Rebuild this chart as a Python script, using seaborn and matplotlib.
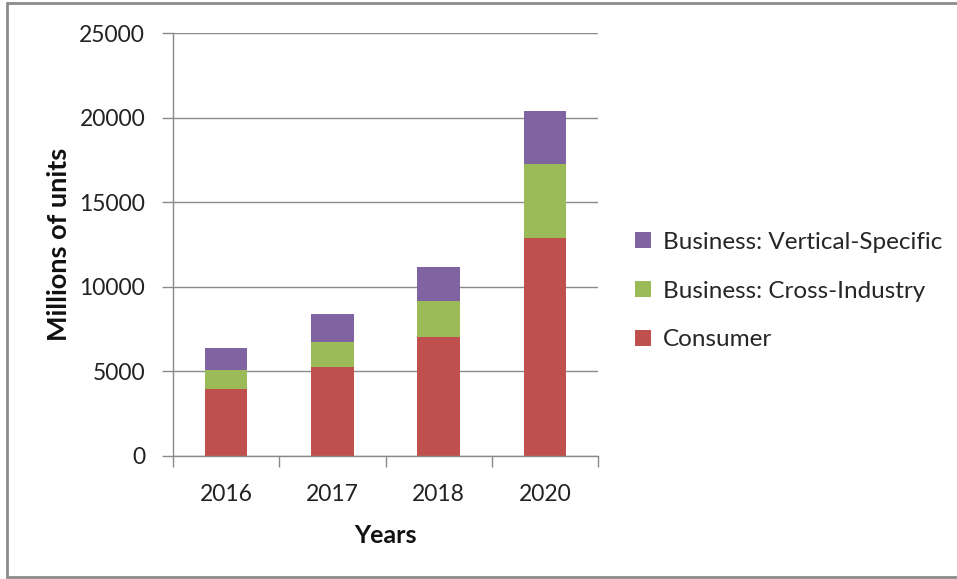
import matplotlib
matplotlib.use("Agg")
import matplotlib.pyplot as plt
import seaborn as sns
import pandas as pd
import numpy as np
from matplotlib.lines import Line2D
from matplotlib.patches import Patch
from matplotlib.ticker import FixedLocator

years = ["2016", "2017", "2018", "2020"]
consumer = [3963.0, 5244.3, 7036.3, 12863.0]
cross_industry = [1102.1, 1501.0, 2132.6, 4381.4]
vertical_specific = [1316.6, 1635.4, 2027.7, 3171.0]
series_names = ["Consumer", "Business: Cross-Industry", "Business: Vertical-Specific"]
colors = ["#C0504D", "#9BBB59", "#8064A2"]
y_ticks = [0, 5000, 10000, 15000, 20000, 25000]

sns.set_theme(style="white")
plt.rcParams["font.family"] = ["Lato", "DejaVu Sans"]

W, H = 957, 579
fig = plt.figure(figsize=(W / 100, H / 100), dpi=100)

# frame around the chart: top, left and bottom edges
frame_kw = dict(transform=fig.transFigure, color="#8c8c8c", linewidth=2)
fig.add_artist(Line2D([7 / W, 1.0], [1 - 3 / H, 1 - 3 / H], **frame_kw))
fig.add_artist(Line2D([7 / W, 7 / W], [1 - 3 / H, 1 - 577 / H], **frame_kw))
fig.add_artist(Line2D([7 / W, 1.0], [1 - 577 / H, 1 - 577 / H], **frame_kw))

ax = fig.add_axes([173 / W, 1 - 456 / H, (598 - 173) / W, (456 - 33) / H])

df = pd.DataFrame({"year": years, "c": consumer, "x": cross_industry, "v": vertical_specific})
bottom = np.zeros(len(years))
for col, name, color in zip(["c", "x", "v"], series_names, colors):
    sns.barplot(data=df, x="year", y=col, color=color, width=0.4, bottom=bottom,
                ax=ax, saturation=1, linewidth=0, label=name)
    bottom = bottom + df[col].to_numpy()

ax.set_ylim(0, 25000)
ax.set_xlim(-0.5, 3.5)
ax.set_yticks(y_ticks)
ax.set_yticklabels([str(t) for t in y_ticks], fontsize=16.5, color="#222222")
ax.yaxis.grid(True, color="#8a8a8a", linewidth=1)
ax.set_axisbelow(True)
ax.tick_params(axis="y", length=8, color="#8a8a8a", width=1, pad=12, left=True)
ax.tick_params(axis="x", which="major", length=0, pad=20, labelsize=16.5, labelcolor="#222222")
ax.xaxis.set_minor_locator(FixedLocator([-0.5, 0.5, 1.5, 2.5, 3.5]))
ax.tick_params(axis="x", which="minor", length=8, color="#8a8a8a", width=1, bottom=True)
for side in ["top", "right"]:
    ax.spines[side].set_visible(False)
for side in ["left", "bottom"]:
    ax.spines[side].set_color("#8a8a8a")
    ax.spines[side].set_linewidth(1)

ax.set_xlabel("Years", fontsize=18, fontweight="bold", labelpad=14, color="#111111")
ax.set_ylabel("Millions of units", fontsize=19.5, fontweight="bold", color="#111111")
ax.yaxis.set_label_coords((71 - 173) / (598 - 173), 0.5)

handles = [Patch(facecolor=c, edgecolor="none") for c in colors[::-1]]
fig.legend(handles, series_names[::-1], loc="center left",
           bbox_to_anchor=(613 / W, 1 - 291 / H), frameon=False, fontsize=17.5,
           handlelength=0.65, handleheight=0.65, handletextpad=0.5, labelspacing=1.15)
if ax.get_legend():
    ax.get_legend().remove()

fig.savefig("out.png", dpi=100)
